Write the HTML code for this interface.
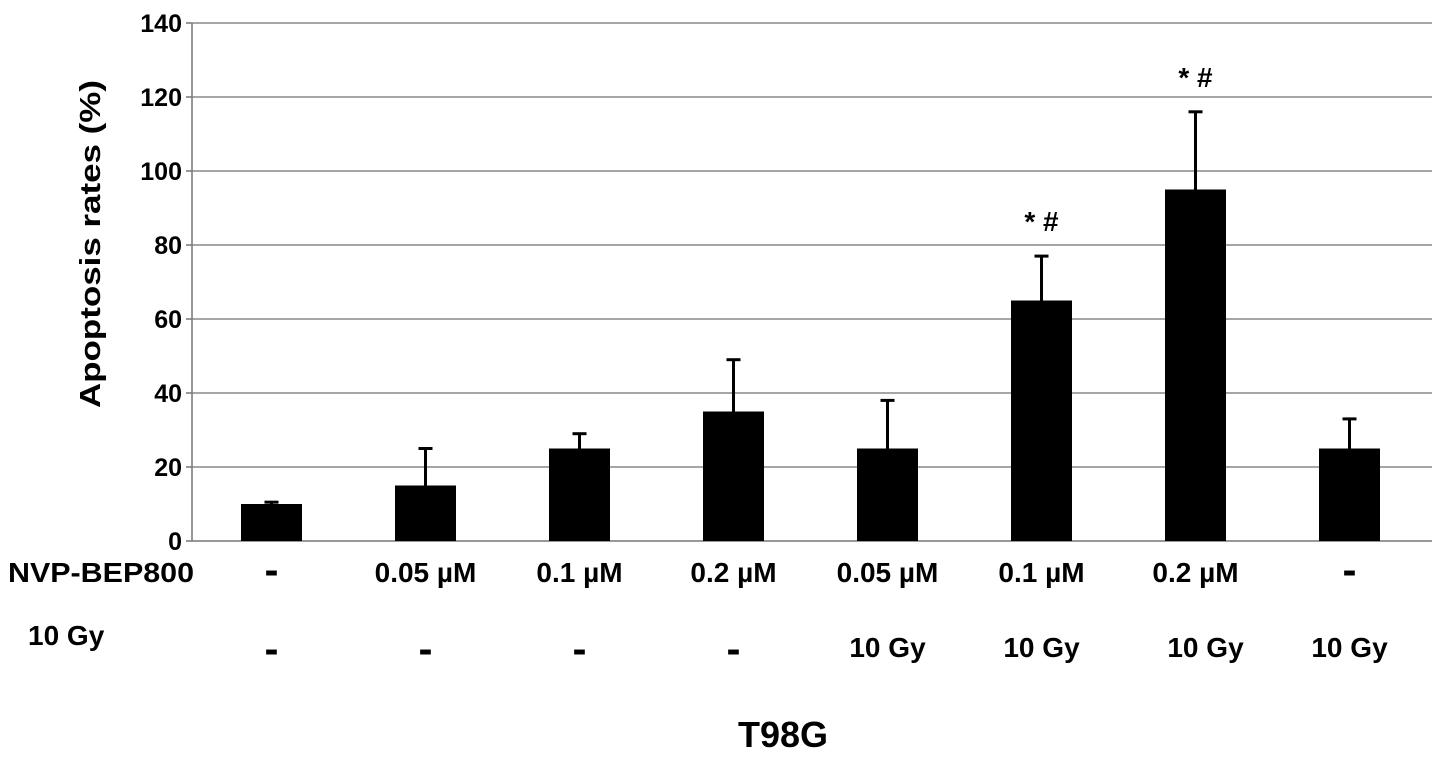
<!DOCTYPE html>
<html><head><meta charset="utf-8"><style>
body{margin:0;background:#fff;}
svg text{font-family:"Liberation Sans",Arial,sans-serif;font-weight:bold;fill:#000;}
</style></head><body>
<svg id="chart" width="1441" height="752" viewBox="0 0 1441 752" xmlns="http://www.w3.org/2000/svg">
<g id="grid"></g>
<g id="bars"></g>
<g id="labels"></g>
<text transform="translate(100,244) rotate(-90)" text-anchor="middle" font-size="29" textLength="328" lengthAdjust="spacingAndGlyphs">Apoptosis rates (%)</text>
<text x="8" y="582" font-size="28" textLength="186" lengthAdjust="spacingAndGlyphs">NVP-BEP800</text>
<text x="28" y="645" font-size="28">10 Gy</text>
<text x="783" y="747" text-anchor="middle" font-size="36">T98G</text>
</svg>
<script>
const categories = ["c1","c2","c3","c4","c5","c6","c7","c8"];
const values = [10, 15, 25, 35, 25, 65, 95, 25];
const errTops = [10.5, 25, 29, 49, 38, 77, 116, 33];
const nvpLabels = ["-", "0.05 µM", "0.1 µM", "0.2 µM", "0.05 µM", "0.1 µM", "0.2 µM", "-"];
const gyLabels = ["-", "-", "-", "-", "10 Gy", "10 Gy", "10 Gy", "10 Gy"];
const sigLabels = ["", "", "", "", "", "* #", "* #", ""];
const yTicks = [0, 20, 40, 60, 80, 100, 120, 140];
const NS="http://www.w3.org/2000/svg";
const x0=192, x1=1432, yb=541, yt=23, ymax=140;
const y = v => yb - (yb-yt)*v/ymax;
const xc = i => 271.5 + i*154;
function mk(t,a,p){const e=document.createElementNS(NS,t);for(const k in a)e.setAttribute(k,a[k]);p.appendChild(e);return e;}
const grid=document.getElementById('grid'), bars=document.getElementById('bars'), labels=document.getElementById('labels');
yTicks.forEach(t=>{
  const l=mk('line',{x1:x0,x2:x1,y1:y(t),y2:y(t),stroke:t===0?'#777':'#888','stroke-width':1.5},grid);
  
  
  const tk=mk('line',{x1:x0-6,x2:x0,y1:y(t),y2:y(t),stroke:'#777','stroke-width':1.5},grid);
  
  
  const tx=mk('text',{x:x0-10,y:y(t)+9,'text-anchor':'end','font-size':25},grid);
  tx.textContent=t;
  
  
});
const ax=mk('line',{x1:x0,x2:x0,y1:yt,y2:yb,stroke:'#777','stroke-width':1.5},grid);


categories.forEach((c,i)=>{
  const cx=xc(i);
  const e=mk('line',{x1:cx,x2:cx,y1:y(errTops[i]),y2:y(values[i]),stroke:'#000','stroke-width':3},bars);
  
  
  const cap=mk('line',{x1:cx-7,x2:cx+7,y1:y(errTops[i]),y2:y(errTops[i]),stroke:'#000','stroke-width':3},bars);
  
  
  const r=mk('rect',{x:cx-30.5,y:y(values[i]),width:61,height:yb-y(values[i]),fill:'#000'},bars);
  
  
  const da=nvpLabels[i]==='-';
  const a=mk('text',{x:cx,y:da?584:582,'text-anchor':'middle','font-size':da?42:28},labels);
  a.textContent=nvpLabels[i];
  
  
  const db=gyLabels[i]==='-';
  const b=mk('text',{x:cx+(i===6?10:0),y:db?663:657,'text-anchor':'middle','font-size':db?42:28},labels);
  b.textContent=gyLabels[i];
  
  
  if(sigLabels[i]){
    const s=mk('text',{x:cx,y:y(errTops[i])-25,'text-anchor':'middle','font-size':28},labels);
    s.textContent=sigLabels[i];
    
    
  }
});
</script>
</body></html>
